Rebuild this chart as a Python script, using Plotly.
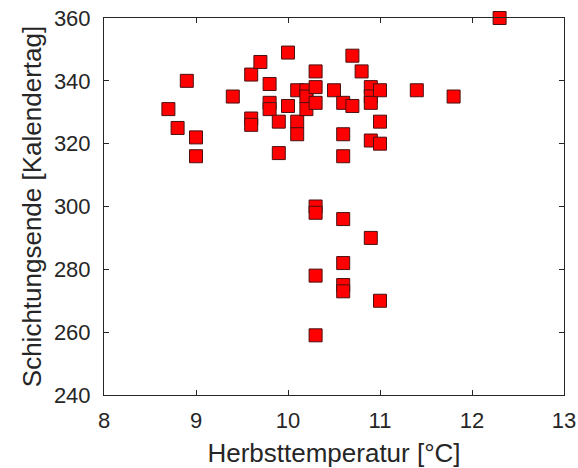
import plotly.graph_objects as go

temperature = [8.7, 8.8, 8.9, 9.0, 9.0, 9.4, 9.6, 9.6, 9.6, 9.7, 9.8, 9.8, 9.8,
               9.9, 9.9, 10.0, 10.0, 10.1, 10.1, 10.1, 10.2, 10.2, 10.2,
               10.3, 10.3, 10.3, 10.3, 10.3, 10.3, 10.3,
               10.5, 10.6, 10.6, 10.6, 10.6, 10.6, 10.6, 10.6,
               10.7, 10.7, 10.8, 10.9, 10.9, 10.9, 10.9, 10.9,
               11.0, 11.0, 11.0, 11.0, 11.4, 11.8, 12.3]
stratification_end = [331, 325, 340, 322, 316, 335, 342, 328, 326, 346, 339, 333, 331,
                      327, 317, 349, 332, 337, 327, 323, 337, 335, 331,
                      343, 338, 333, 300, 298, 278, 259,
                      337, 333, 323, 316, 296, 282, 275, 273,
                      348, 332, 343, 338, 335, 333, 321, 290,
                      337, 327, 320, 270, 337, 335, 360]

x_ticks = [8, 9, 10, 11, 12, 13]
y_ticks = [240, 260, 280, 300, 320, 340, 360]

fig = go.Figure()
fig.add_trace(go.Scatter(
    x=temperature, y=stratification_end, mode="markers",
    marker=dict(symbol="square", size=13, color="#FF0000",
                line=dict(color="#4a1010", width=1)),
    cliponaxis=False, showlegend=False,
))

axis_common = dict(
    showgrid=False, zeroline=False, showline=True, mirror="ticks",
    linecolor="#262626", linewidth=1, ticks="inside", ticklen=5,
    tickcolor="#262626", tickfont=dict(size=22, color="#262626"),
    title_font=dict(size=26, color="#262626"), automargin=False,
)

fig.update_layout(
    width=578, height=468,
    margin=dict(l=104, r=14, t=18, b=73),
    paper_bgcolor="white", plot_bgcolor="white",
    font=dict(family="Liberation Sans, Arial, sans-serif", color="#262626"),
    xaxis=dict(range=[8, 13], tickvals=x_ticks, ticklabelstandoff=6,
               title=dict(text="Herbsttemperatur [°C]", standoff=11), **axis_common),
    yaxis=dict(range=[240, 360], tickvals=y_ticks, ticklabelstandoff=8,
               title=dict(text="Schichtungsende [Kalendertag]", standoff=4), **axis_common),
)

fig.write_html("out.html", config={"displayModeBar": False},
               post_script="document.body.style.margin='0';")
